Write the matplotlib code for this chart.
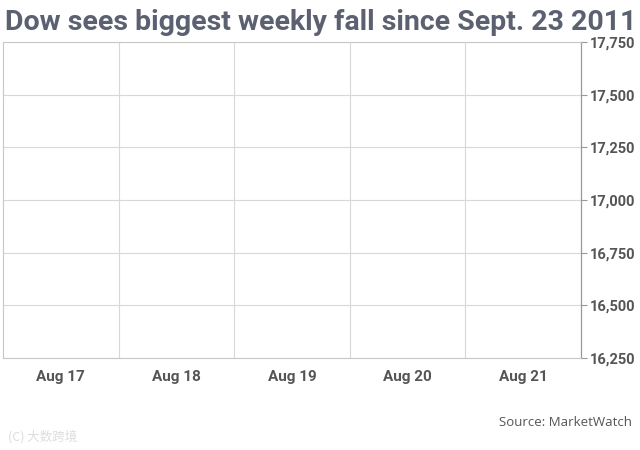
import matplotlib
matplotlib.use("Agg")
import matplotlib.pyplot as plt
import numpy as np

# chart data (the reference shows an empty plot area: no series drawn)
days = ["Aug 17", "Aug 18", "Aug 19", "Aug 20", "Aug 21"]
y_ticks = [16250, 16500, 16750, 17000, 17250, 17500, 17750]
title = "Dow sees biggest weekly fall since Sept. 23 2011"
source = "Source: MarketWatch"

plt.rcParams['font.family'] = ['Roboto', 'DejaVu Sans']

fig = plt.figure(figsize=(6.4, 4.5), dpi=100)
ax = fig.add_axes([3 / 640, 1 - 358 / 450, (581 - 3) / 640, (358 - 42) / 450])

x = np.arange(len(days))
ax.set_xlim(-0.5, len(days) - 0.5)
ax.set_ylim(y_ticks[0], y_ticks[-1])

ax.set_xticks(x)
ax.set_xticklabels(days, fontsize=11, fontweight='bold', color='#555555')
ax.set_xticks(x[:-1] + 0.5, minor=True)
ax.tick_params(axis='x', which='both', length=0, pad=9)

ax.yaxis.tick_right()
ax.set_yticks(y_ticks)
ax.set_yticklabels([f"{v:,}" for v in y_ticks], fontsize=10.5,
                   fontweight='bold', color='#555555')
ax.tick_params(axis='y', length=4, width=0.8, color='#999999', pad=2)

ax.grid(True, axis='y', which='major', color='#d8d8d8', linewidth=0.8)
ax.grid(True, axis='x', which='minor', color='#d8d8d8', linewidth=0.8)
ax.set_axisbelow(True)

for side in ['left', 'top', 'bottom']:
    ax.spines[side].set_color('#c8c8c8')
    ax.spines[side].set_linewidth(0.8)
ax.spines['right'].set_color('#999999')
ax.spines['right'].set_linewidth(0.9)

fig.text(5 / 640, 1 - 23 / 450, title, fontsize=20.5, fontweight='bold',
         color='#5b6170', va='center', ha='left')
fig.text(632 / 640, 1 - 422 / 450, source, fontsize=9.5, color='#555555',
         va='center', ha='right', family=['Open Sans', 'DejaVu Sans'])
fig.text(8 / 640, 1 - 437 / 450, "(C) 大数跨境", fontsize=9, color='#dddddd',
         va='center', ha='left', family=['Noto Sans CJK SC', 'DejaVu Sans'])

fig.savefig("out.png", dpi=100)
